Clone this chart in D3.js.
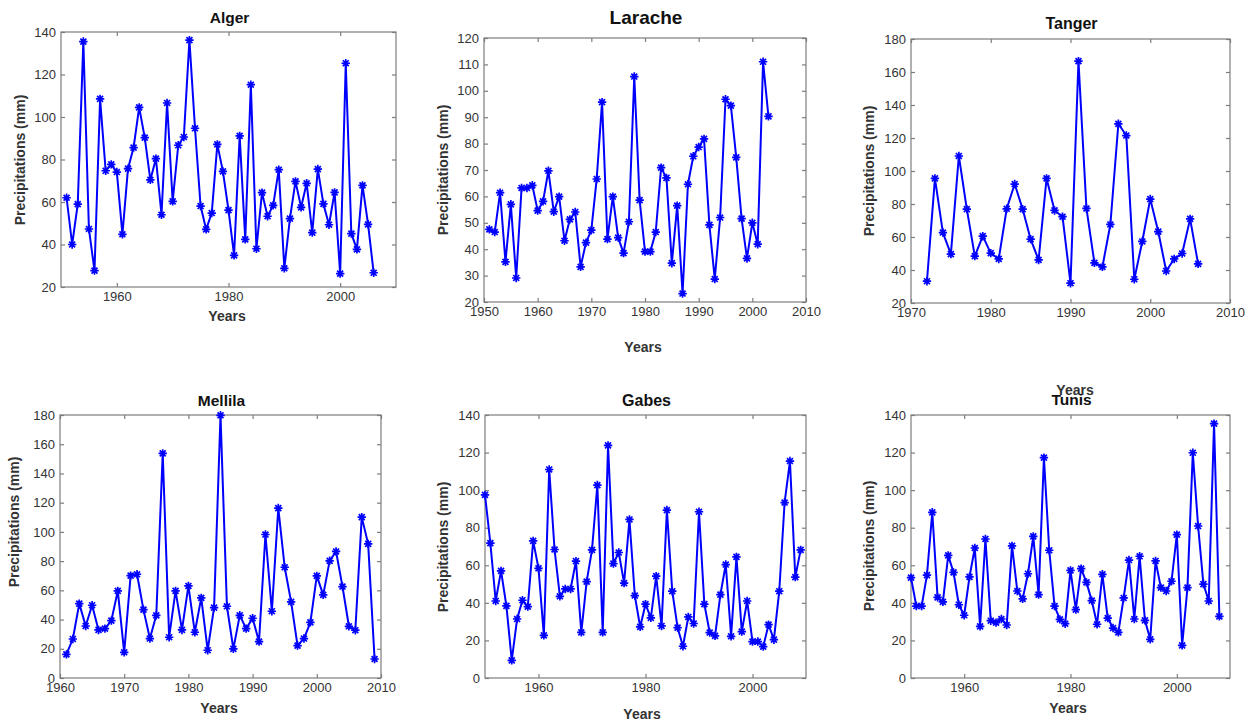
<!DOCTYPE html>
<html>
<head>
<meta charset="utf-8">
<script src="https://cdn.jsdelivr.net/npm/d3@7"></script>
<style>
  body { margin: 0; background: #fff; }
  svg { display: block; }
  text { font-family: "Liberation Sans", Arial, Helvetica, sans-serif; }
</style>
</head>
<body>
<svg id="chart" width="1255" height="727"></svg>
<script>
// Annual precipitation series (mm), one value per consecutive year
const algerStart = 1951;
const algerValues = [62, 40, 59, 135.5, 47.3, 27.7, 108.5, 74.7, 77.7, 74.1, 44.8, 75.7, 85.6, 104.5, 90.3,
  70.4, 80.4, 54, 106.6, 60.3, 86.7, 90.6, 136.2, 94.7, 58.1, 47.1, 54.8, 87.1, 74.4, 56.2, 34.9, 91.1, 42.4,
  115.2, 38, 64.4, 53.3, 58.4, 75.2, 28.8, 52.2, 69.7, 57.5, 68.8, 45.6, 75.5, 59.1, 49.3, 64.5, 26.3, 125.3,
  45.1, 37.7, 67.8, 49.5, 26.7];

const laracheStart = 1951;
const laracheValues = [47.5, 46.5, 61.4, 35.2, 57, 29.1, 63.2, 63.2, 64.2, 54.6, 58.1, 69.7, 54.2, 59.9, 43.2,
  51.3, 54.1, 33.3, 42.5, 47.2, 66.6, 95.7, 43.8, 59.9, 44.4, 38.5, 50.4, 105.4, 58.6, 39.1, 39.1, 46.5, 70.9,
  67, 34.7, 56.5, 23.2, 64.6, 75.2, 78.7, 81.8, 49.2, 28.7, 52, 96.8, 94.4, 74.8, 51.6, 36.5, 50, 41.9, 111, 90.3];

const tangerStart = 1972;
const tangerValues = [33.2, 95.5, 62.7, 49.6, 109.1, 76.9, 48.4, 60.5, 50.2, 46.7, 77.1, 92.1, 76.9, 58.7, 46.1,
  95.5, 76.1, 72.3, 32, 166.6, 77.3, 44.3, 41.9, 67.6, 128.6, 121.5, 34.4, 57.3, 83, 63.3, 39.4, 46.7, 50, 71, 43.7];

const mellilaStart = 1961;
const mellilaValues = [16.2, 26.7, 50.9, 35.6, 49.8, 32.9, 33.8, 39.3, 59.6, 17.6, 70.1, 71, 46.8, 27, 42.9,
  153.7, 27.9, 59.6, 32.9, 63, 31.3, 54.8, 19, 48.2, 179.8, 49.1, 19.9, 42.9, 33.8, 40.9, 24.9, 98.2, 45.7,
  116.3, 75.8, 52.1, 22.2, 27, 38.1, 69.9, 56.9, 80.2, 86.6, 62.6, 35.4, 32.7, 110.1, 91.8, 13];

const gabesStart = 1950;
const gabesValues = [97.5, 71.8, 41, 57, 38.4, 9.4, 31.4, 41.4, 38, 73, 58.4, 22.7, 111, 68.4, 43.5, 47.4, 47.4,
  62.2, 24.3, 51.3, 68.2, 102.7, 24.3, 123.8, 60.9, 66.8, 50.5, 84.4, 43.9, 27.2, 39.3, 32, 54.2, 27.7, 89.4,
  46.2, 26.8, 16.9, 32.5, 29, 88.5, 39.3, 24.2, 22.4, 44.4, 60.4, 22.2, 64.5, 24.7, 41, 19.4, 19.4, 16.7, 28.4,
  20.4, 46.2, 93.4, 115.5, 53.7, 68.2];

const tunisStart = 1950;
const tunisValues = [53.4, 38.3, 38.3, 54.8, 88.2, 42.9, 40.5, 65.3, 56.2, 39, 33.4, 53.8, 69.2, 27.5, 74, 30.5,
  29.5, 31.4, 28.2, 70.3, 46.3, 42.1, 55.5, 75.4, 44.4, 117.3, 68, 38.3, 31.2, 28.9, 57.3, 36.4, 58.2, 50.9, 41.2,
  28.6, 55.2, 31.9, 26.6, 24.3, 42.6, 62.8, 31.4, 64.8, 30.7, 20.6, 62.3, 48.1, 46.3, 51.5, 76.3, 17.4, 48.1,
  119.9, 80.9, 50, 41, 135.4, 32.8];

// Axis tick labels
const ticksEvery20 = [1960, 1980, 2000];
const laracheXTicks = [1950, 1960, 1970, 1980, 1990, 2000, 2010];
const tangerXTicks = [1970, 1980, 1990, 2000, 2010];
const mellilaXTicks = [1960, 1970, 1980, 1990, 2000, 2010];
const algerYTicks = [20, 40, 60, 80, 100, 120, 140];
const laracheYTicks = [20, 30, 40, 50, 60, 70, 80, 90, 100, 110, 120];
const tangerYTicks = [20, 40, 60, 80, 100, 120, 140, 160, 180];
const mellilaYTicks = [0, 20, 40, 60, 80, 100, 120, 140, 160, 180];
const zeroTo140Ticks = [0, 20, 40, 60, 80, 100, 120, 140];

const stations = [
  { name: "Alger",   start: algerStart,   values: algerValues,   xDomain: [1950, 2010], xTicks: ticksEvery20,  yDomain: [20, 140], yTicks: algerYTicks },
  { name: "Larache", start: laracheStart, values: laracheValues, xDomain: [1950, 2010], xTicks: laracheXTicks, yDomain: [20, 120], yTicks: laracheYTicks },
  { name: "Tanger",  start: tangerStart,  values: tangerValues,  xDomain: [1970, 2010], xTicks: tangerXTicks,  yDomain: [20, 180], yTicks: tangerYTicks },
  { name: "Mellila", start: mellilaStart, values: mellilaValues, xDomain: [1960, 2010], xTicks: mellilaXTicks, yDomain: [0, 180],  yTicks: mellilaYTicks },
  { name: "Gabes",   start: gabesStart,   values: gabesValues,   xDomain: [1950, 2010], xTicks: ticksEvery20,  yDomain: [0, 140],  yTicks: zeroTo140Ticks },
  { name: "Tunis",   start: tunisStart,   values: tunisValues,   xDomain: [1950, 2010], xTicks: ticksEvery20,  yDomain: [0, 140],  yTicks: zeroTo140Ticks }
];

// Panel geometry (pixels)
const frames = [
  { l: 61,  t: 32,  r: 396,  b: 287, titleY: 17,  titleSize: 15.5, yLabelX: 20,  yLabelY: 160, xLabelX: 227,  xLabelY: 316 },
  { l: 484, t: 38,  r: 806,  b: 302, titleY: 17,  titleSize: 19,   yLabelX: 443, yLabelY: 170, xLabelX: 643,  xLabelY: 347 },
  { l: 911, t: 39,  r: 1230, b: 303, titleY: 23,  titleSize: 16,   yLabelX: 869, yLabelY: 171, xLabelX: 1075, xLabelY: 390 },
  { l: 60,  t: 415, r: 381,  b: 678, titleY: 400, titleSize: 15.5, yLabelX: 14,  yLabelY: 522, xLabelX: 219,  xLabelY: 708 },
  { l: 485, t: 415, r: 806,  b: 678, titleY: 400, titleSize: 16,   yLabelX: 443, yLabelY: 547, xLabelX: 642,  xLabelY: 714 },
  { l: 911, t: 415, r: 1230, b: 678, titleY: 399, titleSize: 15.5, yLabelX: 869, yLabelY: 546, xLabelX: 1068, xLabelY: 708 }
];

const svg = d3.select("#chart");
const ink = "#333333";
const frameGray = "#7d7d7d";
const lineBlue = "#0000ff";
const tickLen = 4;

// asterisk marker: horizontal, vertical and two diagonal strokes
function starPath(r) {
  const d = r * Math.SQRT1_2;
  return `M${-r},0L${r},0M0,${-r}L0,${r}M${-d},${-d}L${d},${d}M${-d},${d}L${d},${-d}`;
}

stations.forEach((s, i) => {
  const f = frames[i];
  const data = s.values.map((v, k) => ({ year: s.start + k, value: v }));

  const x = d3.scaleLinear().domain(s.xDomain).range([f.l, f.r]);
  const y = d3.scaleLinear().domain(s.yDomain).range([f.b, f.t]);

  const g = svg.append("g").attr("class", "panel");

  // white plot area with frame
  g.append("rect")
    .attr("x", f.l).attr("y", f.t)
    .attr("width", f.r - f.l).attr("height", f.b - f.t)
    .attr("fill", "#fff").attr("stroke", frameGray).attr("stroke-width", 1.2);

  const styleAxis = sel => {
    sel.select(".domain").remove();
    sel.selectAll(".tick line").attr("stroke", frameGray).attr("stroke-width", 1.2);
    sel.selectAll(".tick text").attr("fill", ink).style("font-size", "13px").style("font-family", '"Liberation Sans", Arial, sans-serif');
  };

  // bottom and left axes with inward ticks
  g.append("g").attr("transform", `translate(0,${f.b})`)
    .call(d3.axisBottom(x).tickValues(s.xTicks).tickFormat(d3.format("d")).tickSize(-tickLen).tickPadding(5))
    .call(styleAxis);
  g.append("g").attr("transform", `translate(${f.l},0)`)
    .call(d3.axisLeft(y).tickValues(s.yTicks).tickFormat(d3.format("d")).tickSize(-tickLen).tickPadding(5))
    .call(styleAxis);
  // mirrored ticks on the top and right edges
  g.append("g").attr("transform", `translate(0,${f.t})`)
    .call(d3.axisTop(x).tickValues(s.xTicks).tickFormat("").tickSize(-tickLen))
    .call(styleAxis);
  g.append("g").attr("transform", `translate(${f.r},0)`)
    .call(d3.axisRight(y).tickValues(s.yTicks).tickFormat("").tickSize(-tickLen))
    .call(styleAxis);

  // series line
  const line = d3.line().x(d => x(d.year)).y(d => y(d.value));
  g.append("path").datum(data)
    .attr("d", line)
    .attr("fill", "none")
    .attr("stroke", lineBlue)
    .attr("stroke-width", 2)
    .attr("stroke-linejoin", "round");

  // asterisk markers
  g.selectAll("path.marker").data(data).join("path")
    .attr("class", "marker")
    .attr("transform", d => `translate(${x(d.year)},${y(d.value)})`)
    .attr("d", starPath(4.2))
    .attr("stroke", lineBlue)
    .attr("stroke-width", 1.7)
    .attr("fill", "none");

  // title
  g.append("text")
    .attr("x", (f.l + f.r) / 2 + 1).attr("y", f.titleY)
    .attr("text-anchor", "middle").attr("dominant-baseline", "central")
    .attr("font-weight", "bold").attr("font-size", f.titleSize).attr("fill", "#111")
    .text(s.name);

  // axis labels
  g.append("text")
    .attr("x", f.xLabelX).attr("y", f.xLabelY)
    .attr("text-anchor", "middle").attr("dominant-baseline", "central")
    .attr("font-weight", "bold").attr("font-size", 14).attr("fill", ink)
    .text("Years");
  g.append("text")
    .attr("transform", `translate(${f.yLabelX},${f.yLabelY}) rotate(-90)`)
    .attr("text-anchor", "middle").attr("dominant-baseline", "central")
    .attr("font-weight", "bold").attr("font-size", 14).attr("fill", ink)
    .text("Precipitations (mm)");
});
</script>
</body>
</html>
